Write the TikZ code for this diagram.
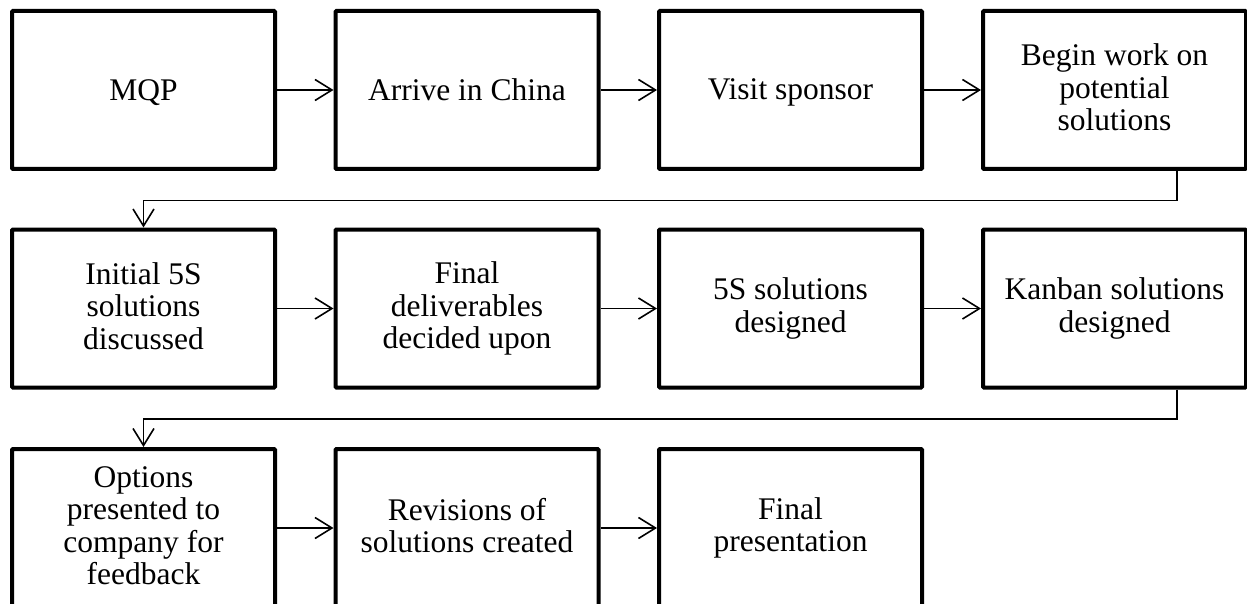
\documentclass[tikz,border=0pt]{standalone}
\usepackage{fontspec}
\setmainfont{Liberation Serif}
\usetikzlibrary{arrows.meta}
\newcommand{\topstrut}{\rule[-5pt]{0pt}{31pt}}
\tikzset{
  stepbox/.style={draw=black, line width=4pt, rounded corners=1pt, fill=white,
    minimum width=263pt, minimum height=158pt, inner sep=0pt, align=center,
    font=\fontsize{31.5}{32.5}\selectfont,
    execute at begin node=\topstrut, execute at end node=\topstrut},
  flow/.style={line width=1.6pt, -{Straight Barb[length=17pt,width=21pt,line width=1.6pt]}}
}
\begin{document}
\begin{tikzpicture}[x=1pt,y=-1pt]
\useasboundingbox (0,0) rectangle (1247,604);
% row 1
\node[stepbox] (b1) at (143.5,90) {MQP};
\node[stepbox] (b2) at (467,90) {Arrive in China};
\node[stepbox] (b3) at (790.5,90) {Visit sponsor};
\node[stepbox] (b4) at (1114.5,90) {Begin work on\\potential\\solutions};
% row 2
\node[stepbox] (b5) at (143.5,308.5) {Initial 5S\\solutions\\discussed};
\node[stepbox] (b6) at (467,308.5) {Final\\deliverables\\decided upon};
\node[stepbox] (b7) at (790.5,308.5) {5S solutions\\designed};
\node[stepbox] (b8) at (1114.5,308.5) {Kanban solutions\\designed};
% row 3
\node[stepbox] (b9) at (143.5,528) {Options\\presented to\\company for\\feedback};
\node[stepbox] (b10) at (467,528) {Revisions of\\solutions created};
\node[stepbox] (b11) at (790.5,528) {Final\\presentation};
% connectors
\draw[flow] (b1) -- (b2);
\draw[flow] (b2) -- (b3);
\draw[flow] (b3) -- (b4);
\draw[flow] (b5) -- (b6);
\draw[flow] (b6) -- (b7);
\draw[flow] (b7) -- (b8);
\draw[flow] (b9) -- (b10);
\draw[flow] (b10) -- (b11);
\coordinate (j1) at (1177,200.5);
\coordinate (j2) at (1177,419);
\draw[flow] (b4.south -| j1) -- (j1) -| (b5.north);
\draw[flow] (b8.south -| j2) -- (j2) -| (b9.north);
\end{tikzpicture}
\end{document}
